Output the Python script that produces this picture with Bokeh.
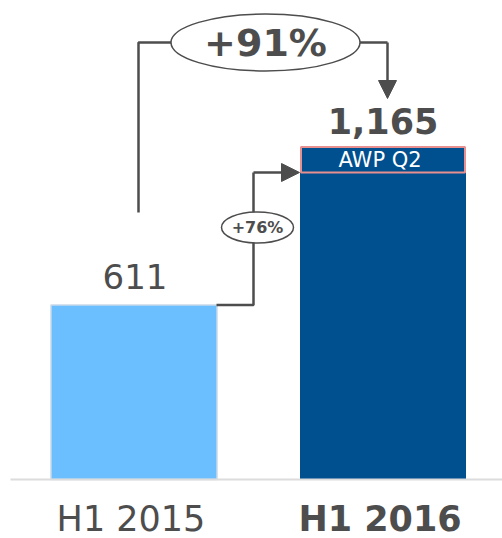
from bokeh.plotting import figure
from bokeh.models import Range1d, Arrow, NormalHead
from bokeh.core.properties import value
from bokeh.embed import file_html
from bokeh.resources import INLINE

# ---- data ----
categories = ["H1 2015", "H1 2016"]
totals = [611, 1165]
value_labels = ["611", "1,165"]
segment_label = "AWP Q2"
segment_value = 90
growth_small_label = "+76%"
growth_small_rate = 0.76
growth_total_label = "+91%"

# ---- layout ----
W, H = 502, 538
BASE = 479          # baseline pixel from top
K = 0.2855          # pixels per unit


def yv(pix):
    return (BASE - pix) / K


FONT = value("DejaVu Sans")
TXT = "#4d4d4d"
bar_x = [133.5, 382.5]
bar_w = 166
colors = ["#6bbfff", "#004f8f"]

p = figure(width=W, height=H, x_range=Range1d(0, W), y_range=Range1d(yv(H), yv(0)),
           output_backend="svg", toolbar_location=None, min_border=0,
           outline_line_color=None)
p.axis.visible = False
p.grid.visible = False
p.background_fill_color = "white"

# bars
p.vbar(x=[bar_x[0]], top=[totals[0]], bottom=0, width=bar_w, fill_color=colors[0],
       line_color="#c9d9e9", line_width=1.5)
p.vbar(x=[bar_x[1]], top=[totals[1]], bottom=0, width=bar_w, fill_color=colors[1],
       line_color=None)
p.vbar(x=[bar_x[1]], top=[totals[1]], bottom=totals[1] - segment_value, width=bar_w - 2,
       fill_color=colors[1], line_color="#e8908f", line_width=2)

# baseline
p.line([10, 502], [0, 0], line_color="#dcdcdc", line_width=2)

# value labels
p.text(x=[bar_x[0] + 1], y=[totals[0] + 29 / K], text=[value_labels[0]],
       text_font=FONT, text_font_size="34px", text_color=TXT,
       text_align="center", text_baseline="alphabetic")
p.text(x=[bar_x[1]], y=[totals[1] + 26 / K], text=[value_labels[1]],
       text_font=FONT, text_font_size="35px", text_font_style="bold", text_color=TXT,
       text_align="center", text_baseline="alphabetic")

# segment label
p.text(x=[bar_x[1] - 3], y=[totals[1] - segment_value / 2], text=[segment_label],
       text_font=FONT, text_font_size="21px", text_color="white",
       text_align="center", text_baseline="middle")

# category labels
p.text(x=[bar_x[0] - 3], y=[yv(518)], text=[categories[0]],
       text_font=FONT, text_font_size="35px", text_color=TXT,
       text_align="center", text_baseline="alphabetic")
p.text(x=[bar_x[1] - 3], y=[yv(518)], text=[categories[1]],
       text_font=FONT, text_font_size="35px", text_font_style="bold", text_color=TXT,
       text_align="center", text_baseline="alphabetic")

LC = "#4d4d4d"
# small connector (+76%)
mid_y = totals[0] * (1 + growth_small_rate)
p.line([216, 253, 253], [totals[0], totals[0], mid_y], line_color=LC, line_width=2.5)
p.add_layout(Arrow(x_start=253, y_start=mid_y, x_end=299, y_end=mid_y,
                   line_color=LC, line_width=2.5,
                   end=NormalHead(size=18, fill_color=LC, line_color=LC)))
p.ellipse(x=[257], y=[yv(227)], width=72, height=31, width_units="screen",
          height_units="screen", fill_color="white", line_color=LC, line_width=1.5)
p.text(x=[257], y=[yv(227)], text=[growth_small_label], text_font=FONT,
       text_font_size="16px", text_font_style="bold", text_color=TXT,
       text_align="center", text_baseline="middle")

# total connector (+91%)
p.line([138, 138, 387], [yv(212), yv(42), yv(42)], line_color=LC, line_width=2.5)
p.add_layout(Arrow(x_start=387, y_start=yv(42), x_end=387, y_end=yv(98),
                   line_color=LC, line_width=2.5,
                   end=NormalHead(size=18, fill_color=LC, line_color=LC)))
p.ellipse(x=[265], y=[yv(42)], width=189, height=57, width_units="screen",
          height_units="screen", fill_color="white", line_color=LC, line_width=1.5)
p.text(x=[265], y=[yv(42)], text=[growth_total_label], text_font=FONT,
       text_font_size="38px", text_font_style="bold", text_color=TXT,
       text_align="center", text_baseline="middle")

open("out.html", "w").write(file_html(p, INLINE))
